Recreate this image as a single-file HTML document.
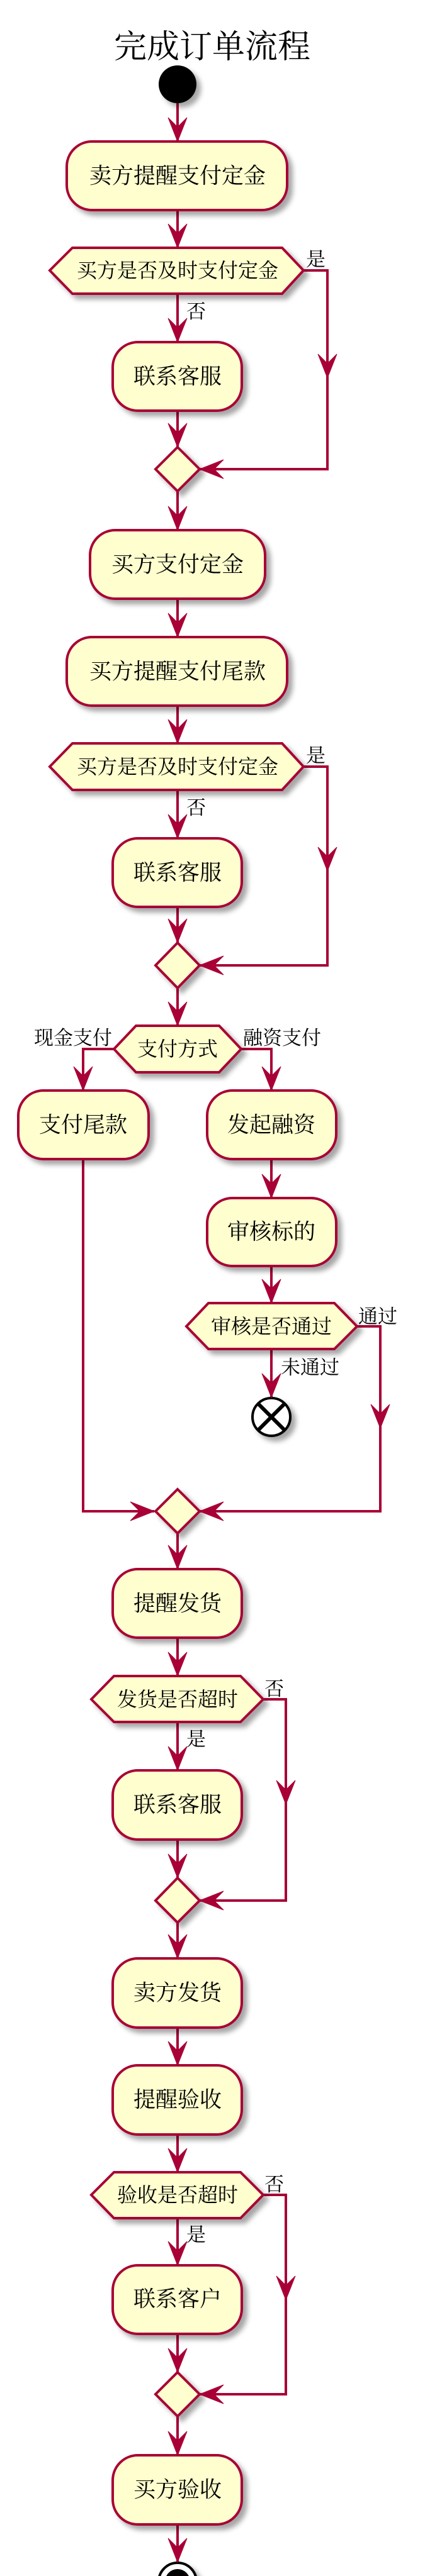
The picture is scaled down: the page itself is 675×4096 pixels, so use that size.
<!DOCTYPE html>
<html><head><meta charset="utf-8"><style>
html,body{margin:0;padding:0;background:#fff;}
svg{display:block;}
text{font-family:"Liberation Serif","Noto Serif CJK SC",serif;fill:#000;}
.n{fill:#FEFECE;stroke:#A80036;stroke-width:4;}
.l{fill:none;stroke:#A80036;stroke-width:4;}
.a{fill:#A80036;stroke:#A80036;stroke-width:1;}
.bt{font-size:35px;text-anchor:middle;dominant-baseline:central;}
.dt{font-size:32px;text-anchor:middle;dominant-baseline:central;}
.lb{font-size:31px;}
</style></head><body>
<svg width="675" height="4096" viewBox="0 0 675 4096" xmlns="http://www.w3.org/2000/svg">
<defs><filter id="s" x="-20%" y="-20%" width="150%" height="150%"><feDropShadow dx="7" dy="7" stdDeviation="4" flood-color="#000" flood-opacity="0.35"/></filter></defs>

<text x="337" y="92" font-size="52" text-anchor="middle">完成订单流程</text>

<g class="l">
<path d="M282 164V225M282 334V394M282 467V544M282 653V711M482 430H520V746H317"/>
<path d="M282 781V843M282 952V1013M282 1122V1182M282 1256V1333M282 1442V1499M482 1219H520V1535H317"/>
<path d="M282 1571V1631M181 1668H132V1734M383 1668H431V1734M431 1843V1905M431 2013V2072M431 2145V2222"/>
<path d="M567 2109H604V2403H317M132 1843V2403H245"/>
<path d="M282 2438V2495M282 2604V2665M282 2738V2815M282 2925V2986M418 2702H454V3022H317"/>
<path d="M282 3057V3114M282 3224V3284M282 3394V3454M282 3527V3602M282 3711V3772M418 3490H454V3807H317"/>
<path d="M282 3842V3904M282 4014V4074"/>
</g>

<g filter="url(#s)">
<circle cx="282" cy="134" r="30" fill="#000"/>
<rect class="n" x="106" y="225" width="350" height="109" rx="40"/>
<polygon class="n" points="79,430 115,394 448,394 482,430 448,467 115,467"/>
<rect class="n" x="179" y="544" width="205" height="109" rx="40"/>
<polygon class="n" points="282,711 317,746 282,781 247,746"/>
<rect class="n" x="143" y="843" width="278" height="109" rx="40"/>
<rect class="n" x="106" y="1013" width="350" height="109" rx="40"/>
<polygon class="n" points="79,1219 115,1182 448,1182 482,1219 448,1256 115,1256"/>
<rect class="n" x="179" y="1333" width="205" height="109" rx="40"/>
<polygon class="n" points="282,1499 317,1535 282,1571 247,1535"/>
<polygon class="n" points="181,1668 216,1631 348,1631 383,1668 348,1705 216,1705"/>
<rect class="n" x="29" y="1734" width="207" height="109" rx="40"/>
<rect class="n" x="329" y="1734" width="205" height="109" rx="40"/>
<rect class="n" x="329" y="1905" width="205" height="108" rx="40"/>
<polygon class="n" points="296,2109 331,2072 531,2072 567,2109 531,2145 331,2145"/>
<circle cx="431" cy="2253" r="30" fill="#fff" stroke="#000" stroke-width="4"/>
<polygon class="n" points="282,2368 317,2403 282,2438 247,2403"/>
<rect class="n" x="179" y="2495" width="205" height="109" rx="40"/>
<polygon class="n" points="145,2702 181,2665 382,2665 418,2702 382,2738 181,2738"/>
<rect class="n" x="179" y="2815" width="205" height="110" rx="40"/>
<polygon class="n" points="282,2986 317,3022 282,3057 247,3022"/>
<rect class="n" x="179" y="3114" width="205" height="110" rx="40"/>
<rect class="n" x="179" y="3284" width="205" height="110" rx="40"/>
<polygon class="n" points="145,3490 181,3454 382,3454 418,3490 382,3527 181,3527"/>
<rect class="n" x="179" y="3602" width="205" height="109" rx="40"/>
<polygon class="n" points="282,3772 317,3807 282,3842 247,3807"/>
<rect class="n" x="179" y="3904" width="205" height="110" rx="40"/>
<circle cx="282" cy="4105" r="30" fill="#fff" stroke="#000" stroke-width="4"/>
</g>
<circle cx="282" cy="4105" r="20" fill="#000"/>
<path d="M410 2232L452 2274M452 2232L410 2274" stroke="#000" stroke-width="6"/>

<g class="a">
<path d="M267 187L282 225L297 187L282 202Z"/>
<path d="M267 356L282 394L297 356L282 371Z"/>
<path d="M267 506L282 544L297 506L282 521Z"/>
<path d="M267 673L282 711L297 673L282 688Z"/>
<path d="M505 563L520 601L535 563L520 578Z"/>
<path d="M267 805L282 843L297 805L282 820Z"/>
<path d="M267 975L282 1013L297 975L282 990Z"/>
<path d="M267 1144L282 1182L297 1144L282 1159Z"/>
<path d="M267 1295L282 1333L297 1295L282 1310Z"/>
<path d="M267 1461L282 1499L297 1461L282 1476Z"/>
<path d="M505 1347L520 1385L535 1347L520 1362Z"/>
<path d="M267 1593L282 1631L297 1593L282 1608Z"/>
<path d="M117 1696L132 1734L147 1696L132 1711Z"/>
<path d="M416 1696L431 1734L446 1696L431 1711Z"/>
<path d="M416 1867L431 1905L446 1867L431 1882Z"/>
<path d="M416 2034L431 2072L446 2034L431 2049Z"/>
<path d="M416 2184L431 2222L446 2184L431 2199Z"/>
<path d="M589 2233L604 2271L619 2233L604 2248Z"/>
<path d="M267 2457L282 2495L297 2457L282 2472Z"/>
<path d="M267 2627L282 2665L297 2627L282 2642Z"/>
<path d="M267 2777L282 2815L297 2777L282 2792Z"/>
<path d="M267 2948L282 2986L297 2948L282 2963Z"/>
<path d="M439 2831L454 2869L469 2831L454 2846Z"/>
<path d="M267 3076L282 3114L297 3076L282 3091Z"/>
<path d="M267 3246L282 3284L297 3246L282 3261Z"/>
<path d="M267 3416L282 3454L297 3416L282 3431Z"/>
<path d="M267 3564L282 3602L297 3564L282 3579Z"/>
<path d="M267 3734L282 3772L297 3734L282 3749Z"/>
<path d="M439 3619L454 3657L469 3619L454 3634Z"/>
<path d="M267 3866L282 3904L297 3866L282 3881Z"/>
<path d="M267 4036L282 4074L297 4036L282 4051Z"/>
<path d="M355 731L317 746L355 761L340 746Z"/>
<path d="M355 1520L317 1535L355 1550L340 1535Z"/>
<path d="M355 2388L317 2403L355 2418L340 2403Z"/>
<path d="M355 3007L317 3022L355 3037L340 3022Z"/>
<path d="M355 3792L317 3807L355 3822L340 3807Z"/>
<path d="M207 2388L245 2403L207 2418L222 2403Z"/>
</g>

<text class="bt" x="282" y="280">卖方提醒支付定金</text>
<text class="dt" x="282" y="430">买方是否及时支付定金</text>
<text class="lb" x="486" y="423">是</text>
<text class="lb" x="296" y="506">否</text>
<text class="bt" x="282" y="599">联系客服</text>
<text class="bt" x="282" y="898">买方支付定金</text>
<text class="bt" x="282" y="1068">买方提醒支付尾款</text>
<text class="dt" x="282" y="1219">买方是否及时支付定金</text>
<text class="lb" x="486" y="1212">是</text>
<text class="lb" x="296" y="1295">否</text>
<text class="bt" x="282" y="1388">联系客服</text>
<text class="dt" x="282" y="1668">支付方式</text>
<text class="lb" x="178" y="1661" text-anchor="end">现金支付</text>
<text class="lb" x="386" y="1661">融资支付</text>
<text class="bt" x="132" y="1789">支付尾款</text>
<text class="bt" x="431" y="1789">发起融资</text>
<text class="bt" x="431" y="1959">审核标的</text>
<text class="dt" x="431" y="2109">审核是否通过</text>
<text class="lb" x="569" y="2104">通过</text>
<text class="lb" x="446" y="2185">未通过</text>
<text class="bt" x="282" y="2550">提醒发货</text>
<text class="dt" x="282" y="2702">发货是否超时</text>
<text class="lb" x="420" y="2696">否</text>
<text class="lb" x="296" y="2776">是</text>
<text class="bt" x="282" y="2870">联系客服</text>
<text class="bt" x="282" y="3169">卖方发货</text>
<text class="bt" x="282" y="3339">提醒验收</text>
<text class="dt" x="282" y="3490">验收是否超时</text>
<text class="lb" x="420" y="3484">否</text>
<text class="lb" x="296" y="3564">是</text>
<text class="bt" x="282" y="3656">联系客户</text>
<text class="bt" x="282" y="3959">买方验收</text>
</svg>
</body></html>
